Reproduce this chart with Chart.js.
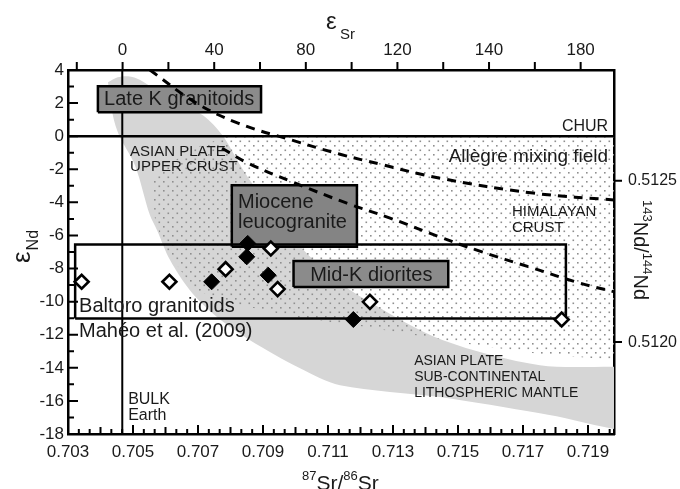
<!DOCTYPE html>
<html>
<head>
<meta charset="utf-8">
<script src="https://cdn.jsdelivr.net/npm/chart.js@4.4.1/dist/chart.umd.min.js"></script>
<style>
  html, body { margin: 0; padding: 0; background: #fff; }
  canvas { display: block; }
</style>
</head>
<body>
<canvas id="chart" width="680" height="489"></canvas>
<script>
// Axis ranges (87Sr/86Sr on x, eNd on y)
const srMin = 0.703, srMax = 0.7198;
const epsMin = -18, epsMax = 4;
const srBulk = 0.70468;    // eSr = 0
const ndChur = 0.512638;   // eNd = 0

// Tick labels
const srTicks = [0.703, 0.705, 0.707, 0.709, 0.711, 0.713, 0.715, 0.717, 0.719];
const srTickLabels = ['0.703', '0.705', '0.707', '0.709', '0.711', '0.713', '0.715', '0.717', '0.719'];
const epsTicks = [-18, -16, -14, -12, -10, -8, -6, -4, -2, 0, 2, 4];
const epsSrTicks = [0, 40, 80, 120, 160, 200];
const epsSrTickLabels = ['0', '40', '80', '120', '140', '180'];
const ndTicks = [0.5120, 0.5125];

// Samples
const openSr = [0.70342, 0.70612, 0.70785, 0.70924, 0.70945, 0.71229, 0.71819];
const openEps = [-8.80, -8.80, -8.04, -6.79, -9.24, -10.01, -11.08];
const filledSr = [0.70742, 0.70853, 0.70850, 0.70916, 0.71178];
const filledEps = [-8.80, -6.48, -7.29, -8.40, -11.08];

// Mixing curves
const dashUpperSr = [0.70552, 0.70691, 0.70823, 0.70989, 0.71137, 0.71260, 0.71445, 0.71731, 0.71990];
const dashUpperEps = [4.0, 2.05, 0.79, -0.24, -1.09, -1.69, -2.54, -3.44, -3.87];
const dashLowerSr = [0.70774, 0.70854, 0.70992, 0.71158, 0.71291, 0.71445, 0.71558, 0.71731, 0.71875, 0.71990];
const dashLowerEps = [-0.73, -1.63, -2.78, -4.05, -4.95, -6.10, -6.89, -7.98, -8.88, -9.45];

// Fields
const grayBandSr = [0.70423, 0.70453, 0.70485, 0.70522, 0.70610, 0.70715, 0.70775, 0.70830, 0.70866, 0.70983, 0.71106, 0.71229, 0.71454, 0.71752, 0.72150,
                    0.72150, 0.71752, 0.71445, 0.71137, 0.71014, 0.70860, 0.70752, 0.70675, 0.70614, 0.70574, 0.70552, 0.70506, 0.70457, 0.70438, 0.70423];
const grayBandEps = [3.26, 3.56, 3.62, 3.40, 2.30, 1.27, 0.06, -1.75, -2.84, -5.98, -8.40, -10.03, -12.33, -13.84, -14.40,
                     -17.90, -16.74, -15.77, -15.05, -14.02, -12.33, -10.82, -9.31, -7.49, -5.68, -4.77, -1.75, 0.06, 1.27, 3.26];
const dotsSr = [0.70792, 0.71990, 0.71990, 0.71752, 0.71537, 0.71383, 0.71198, 0.71014, 0.70829, 0.70691, 0.70598, 0.70568, 0.70558, 0.70629, 0.70706, 0.70792];
const dotsEps = [0, 0, -13.53, -13.17, -12.57, -12.08, -11.48, -10.99, -10.21, -9.31, -6.77, -5.08, -2.66, -1.45, -0.60, 0];

// Boxes [min, max]
const lateKSr = [0.70392, 0.70894], lateKEps = [1.45, 3.02];
const mioceneSr = [0.70804, 0.71189], mioceneEps = [-6.69, -2.96];
const midKSr = [0.70994, 0.71470], midKEps = [-9.11, -7.55];
const baltoroSr = [0.70322, 0.71832], baltoroEps = [-11.02, -6.55];

// Reference lines
const churSr = [srMin, srMax], churEps = [0, 0];
const bulkSr = [0.70467, 0.70467], bulkEps = [epsMin, epsMax];

const FONT = '"Liberation Sans", Arial, Helvetica, sans-serif';
const INK = '#1a1a1a';

const boxLabels = [
  { text: 'Late K granitoids', sr: 0.70411, eps: 2.24, size: 20 },
  { text: 'Miocene', sr: 0.70823, eps: -3.99, size: 20 },
  { text: 'leucogranite', sr: 0.70823, eps: -5.20, size: 20 },
  { text: 'Mid-K diorites', sr: 0.71045, eps: -8.40, size: 20 },
  { text: 'Baltoro granitoids', sr: 0.70334, eps: -10.31, size: 20 },
  { text: 'Mahéo et al. (2009)', sr: 0.70334, eps: -11.82, size: 20 }
];
const regionLabels = [
  { text: 'CHUR', sr: 0.71962, eps: 0.56, size: 16, align: 'right' },
  { text: 'ASIAN PLATE', sr: 0.70491, eps: -0.97, size: 15 },
  { text: 'UPPER CRUST', sr: 0.70491, eps: -1.87, size: 15 },
  { text: 'Allègre mixing field', sr: 0.71962, eps: -1.27, size: 19, align: 'right' },
  { text: 'HIMALAYAN', sr: 0.71666, eps: -4.57, size: 15 },
  { text: 'CRUST', sr: 0.71666, eps: -5.56, size: 15 },
  { text: 'ASIAN PLATE', sr: 0.71365, eps: -13.60, size: 14 },
  { text: 'SUB-CONTINENTAL', sr: 0.71365, eps: -14.56, size: 14 },
  { text: 'LITHOSPHERIC MANTLE', sr: 0.71365, eps: -15.53, size: 14 },
  { text: 'BULK', sr: 0.70485, eps: -15.95, size: 16 },
  { text: 'Earth', sr: 0.70485, eps: -16.86, size: 16 }
];

function pts(xs, ys) {
  return xs.map((x, i) => ({ x, y: ys[i] }));
}

function box(xs, ys) {
  return [
    { x: xs[0], y: ys[0] }, { x: xs[1], y: ys[0] },
    { x: xs[1], y: ys[1] }, { x: xs[0], y: ys[1] }, { x: xs[0], y: ys[0] }
  ];
}

function dotPattern() {
  const c = document.createElement('canvas');
  c.width = 9; c.height = 9;
  const g = c.getContext('2d');
  g.fillStyle = '#8f8f8f';
  g.fillRect(1, 1, 1.6, 1.6);
  g.fillRect(5.5, 5.5, 1.6, 1.6);
  return g.createPattern(c, 'repeat');
}

const canvas = document.getElementById('chart');
const pattern = dotPattern();

function shape(label, data, fill, order, extra) {
  return Object.assign({
    label, data, showLine: true, fill: 'shape', backgroundColor: fill,
    borderColor: '#000', borderWidth: 0, pointRadius: 0, tension: 0, order
  }, extra || {});
}

function boxSet(label, xs, ys, fill, order) {
  return shape(label, box(xs, ys), fill || 'rgba(0,0,0,0)', order,
    { fill: fill ? 'shape' : false, borderWidth: 2.5, borderJoinStyle: 'miter' });
}

function drawLabels(chart, list) {
  const { ctx, scales: { x, y } } = chart;
  ctx.save();
  ctx.fillStyle = INK;
  ctx.textBaseline = 'middle';
  list.forEach(l => {
    ctx.font = `${l.size}px ${FONT}`;
    ctx.textAlign = l.align || 'left';
    ctx.fillText(l.text, x.getPixelForValue(l.sr), y.getPixelForValue(l.eps));
  });
  ctx.restore();
}

function drawTicks(chart) {
  const { ctx, chartArea: a, scales: { x, y, x2, y2 } } = chart;
  ctx.save();
  ctx.strokeStyle = '#000';
  ctx.lineWidth = 2;
  ctx.beginPath();
  // left: inward, majors every 2
  for (let v = epsMin; v <= epsMax; v++) {
    const p = y.getPixelForValue(v);
    const len = v % 2 === 0 ? 10 : 6;
    ctx.moveTo(a.left, p); ctx.lineTo(a.left + len, p);
  }
  // bottom: inward
  const step = 0.002 / 6;
  for (let i = 0; srMin + i * step <= srMax + 1e-9; i++) {
    const p = x.getPixelForValue(srMin + i * step);
    const len = i % 6 === 0 ? 9 : (i % 3 === 0 ? 7 : 5);
    ctx.moveTo(p, a.bottom); ctx.lineTo(p, a.bottom - len);
  }
  // top: outward every 20
  for (let v = -20; v <= 200; v += 20) {
    const p = x2.getPixelForValue(v);
    ctx.moveTo(p, a.top); ctx.lineTo(p, a.top - 8);
  }
  // right: outward
  ndTicks.forEach(v => {
    const p = y2.getPixelForValue(v);
    ctx.moveTo(a.right, p); ctx.lineTo(a.right + 8, p);
  });
  ctx.stroke();
  ctx.restore();
}

function drawTitles(chart) {
  const { ctx } = chart;
  ctx.save();
  ctx.fillStyle = INK;
  ctx.textBaseline = 'alphabetic';
  ctx.textAlign = 'left';

  // top: eSr
  ctx.font = `24px ${FONT}`;
  ctx.fillText('ε', 326, 29);
  ctx.font = `15px ${FONT}`;
  ctx.fillText('Sr', 340, 39);

  // bottom: 87Sr/86Sr
  let cx = 302;
  const base = 490;
  [['87', 13, -10], ['Sr/', 21, 0], ['86', 13, -10], ['Sr', 21, 0]].forEach(([t, s, dy]) => {
    ctx.font = `${s}px ${FONT}`;
    ctx.fillText(t, cx, base + dy);
    cx += ctx.measureText(t).width;
  });

  // left: eNd (rotated)
  ctx.save();
  ctx.translate(30, 263);
  ctx.rotate(-Math.PI / 2);
  ctx.font = `26px ${FONT}`;
  ctx.fillText('ε', 0, 0);
  const w = ctx.measureText('ε').width;
  ctx.font = `16px ${FONT}`;
  ctx.fillText('Nd', w + 1, 8);
  ctx.restore();

  // right: 143Nd/144Nd (rotated)
  ctx.save();
  ctx.translate(634, 200);
  ctx.rotate(Math.PI / 2);
  let px = 0;
  [['143', 13, -9], ['Nd/', 20, 0], ['144', 13, -9], ['Nd', 20, 0]].forEach(([t, s, dy]) => {
    ctx.font = `${s}px ${FONT}`;
    ctx.fillText(t, px, dy);
    px += ctx.measureText(t).width;
  });
  ctx.restore();

  ctx.restore();
}

const decor = {
  id: 'decor',
  afterDatasetDraw(chart, args) {
    const label = chart.data.datasets[args.index].label;
    if (label === 'dots') drawLabels(chart, regionLabels);
    if (label === 'baltoro') drawLabels(chart, boxLabels);
  },
  afterDraw(chart) {
    drawTicks(chart);
    drawTitles(chart);
  }
};

const tickFont = size => ({ family: FONT, size });
const noGrid = { display: false, drawTicks: false, tickLength: 0 };
const frame = { display: true, color: '#000', width: 2.5 };

new Chart(canvas, {
  type: 'scatter',
  data: {
    datasets: [
      {
        label: 'filled', data: pts(filledSr, filledEps), pointStyle: 'rectRot',
        pointRadius: 8, backgroundColor: '#000', borderColor: '#000', borderWidth: 1, order: 0
      },
      {
        label: 'open', data: pts(openSr, openEps), pointStyle: 'rectRot',
        pointRadius: 7, backgroundColor: '#fff', borderColor: '#000', borderWidth: 2.6, order: 1
      },
      shape('upper curve', pts(dashUpperSr, dashUpperEps), 'rgba(0,0,0,0)', 2,
        { fill: false, borderWidth: 3, borderDash: [9, 7], tension: 0.4 }),
      shape('lower curve', pts(dashLowerSr, dashLowerEps), 'rgba(0,0,0,0)', 3,
        { fill: false, borderWidth: 3, borderDash: [9, 7], tension: 0.4 }),
      boxSet('baltoro', baltoroSr, baltoroEps, null, 4),
      boxSet('midK', midKSr, midKEps, '#8b8b8b', 5),
      boxSet('miocene', mioceneSr, mioceneEps, '#848484', 6),
      boxSet('lateK', lateKSr, lateKEps, '#8b8b8b', 7),
      shape('chur', pts(churSr, churEps), 'rgba(0,0,0,0)', 8, { fill: false, borderWidth: 2.5 }),
      shape('bulk', pts(bulkSr, bulkEps), 'rgba(0,0,0,0)', 9, { fill: false, borderWidth: 2 }),
      shape('dots', pts(dotsSr, dotsEps), pattern, 10),
      shape('gray', pts(grayBandSr, grayBandEps), '#d6d6d6', 11, { tension: 0.3 })
    ]
  },
  options: {
    responsive: false,
    animation: false,
    events: [],
    layout: { padding: 0 },
    plugins: { legend: { display: false }, tooltip: { enabled: false } },
    scales: {
      x: {
        type: 'linear', position: 'bottom', min: srMin, max: srMax,
        afterBuildTicks: s => { s.ticks = srTicks.map(v => ({ value: v })); },
        afterFit: s => { s.height = 55; },
        grid: noGrid, border: frame,
        ticks: {
          padding: 8, color: INK, font: tickFont(17), maxRotation: 0, autoSkip: false,
          callback: (v, i) => srTickLabels[i]
        }
      },
      x2: {
        type: 'linear', position: 'top',
        min: (srMin / srBulk - 1) * 1e4, max: (srMax / srBulk - 1) * 1e4,
        afterBuildTicks: s => { s.ticks = epsSrTicks.map(v => ({ value: v })); },
        afterFit: s => { s.height = 70; },
        grid: noGrid, border: frame,
        ticks: {
          padding: 9, color: INK, font: tickFont(17), maxRotation: 0, autoSkip: false,
          callback: (v, i) => epsSrTickLabels[i]
        }
      },
      y: {
        type: 'linear', position: 'left', min: epsMin, max: epsMax,
        afterBuildTicks: s => { s.ticks = epsTicks.map(v => ({ value: v })); },
        afterFit: s => { s.width = 68; },
        grid: noGrid, border: frame,
        ticks: { padding: 4, color: INK, font: tickFont(17), autoSkip: false, callback: v => String(v) }
      },
      y2: {
        type: 'linear', position: 'right',
        min: ndChur * (1 + epsMin / 1e4), max: ndChur * (1 + epsMax / 1e4),
        afterBuildTicks: s => { s.ticks = ndTicks.map(v => ({ value: v })); },
        afterFit: s => { s.width = 66; },
        grid: noGrid, border: frame,
        ticks: { padding: 14, color: INK, font: tickFont(16), autoSkip: false, callback: v => v.toFixed(4) }
      }
    }
  },
  plugins: [decor]
});
</script>
</body>
</html>
